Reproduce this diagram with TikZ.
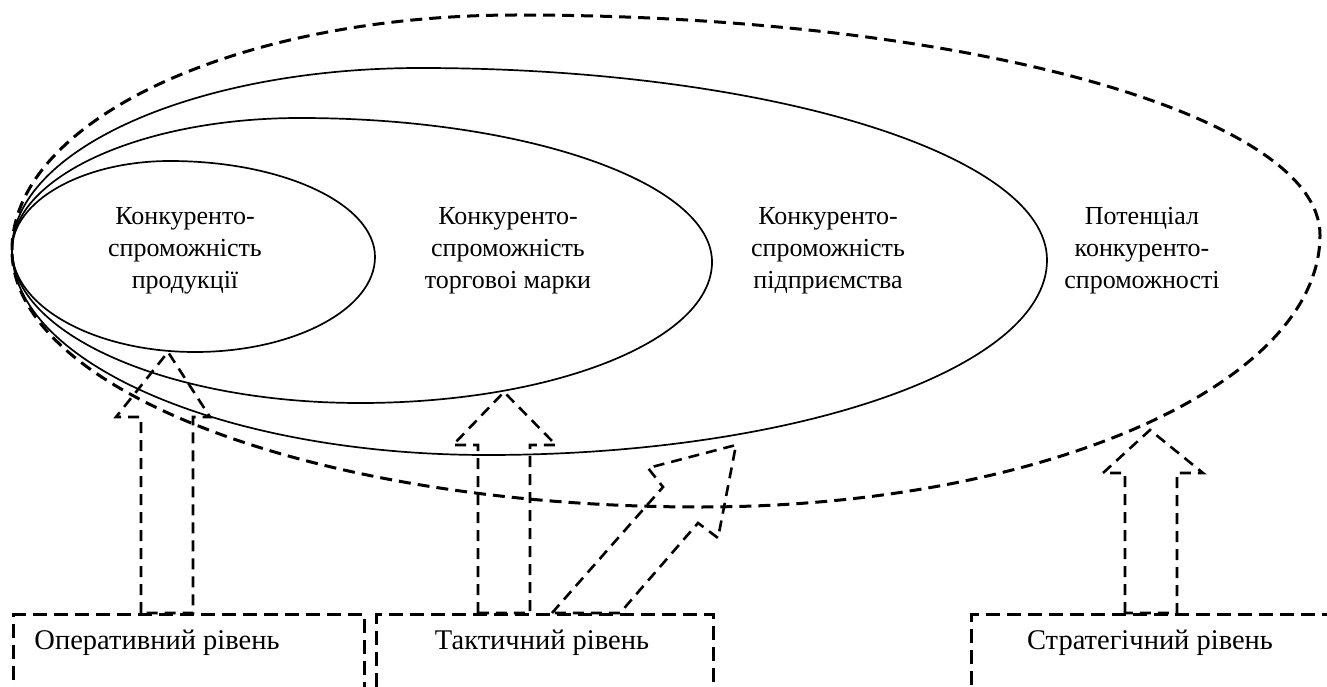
\documentclass[tikz,border=0pt]{standalone}
\usepackage{fontspec}
\setmainfont{Liberation Serif}
\begin{document}
\begin{tikzpicture}[x=1pt,y=-1pt,
  solidegg/.style={line width=1.7pt},
  dashegg/.style={line width=3pt,dash pattern=on 12pt off 7pt},
  lvlbox/.style={draw,line width=3.2pt,dash pattern=on 14pt off 7pt,anchor=north west,minimum height=150pt,inner sep=0pt},
  blockarrow/.style={line width=2.6pt,dash pattern=on 11pt off 7pt,line join=miter},
  lbl/.style={font=\fontsize{26}{32}\selectfont,align=center,inner sep=0pt},
  lvllbl/.style={font=\fontsize{28.5}{34}\selectfont,inner sep=0pt},
]
\useasboundingbox (0,0) rectangle (1327,687);
\clip (0,0) rectangle (1327,687);

% nested shapes
\draw[solidegg] (12,250) .. controls +(0,-49) and +(-87,0) .. (170,161)
  .. controls +(113,0) and +(0,-53) .. (375,257)
  .. controls +(0,52) and +(99,0) .. (195,352)
  .. controls +(-101,0) and +(0,56) .. cycle;
\draw[solidegg] (12,250) .. controls +(0,-73) and +(-159,0) .. (300,118)
  .. controls +(227,0) and +(0,-79) .. (712,262)
  .. controls +(0,78) and +(194,0) .. (360,403)
  .. controls +(-192,0) and +(0,84) .. cycle;
\draw[solidegg] (12,250) .. controls +(0,-100) and +(-225,0) .. (420,68)
  .. controls +(346,0) and +(0,-106) .. (1047,260)
  .. controls +(0,108) and +(309,0) .. (487,455)
  .. controls +(-262,0) and +(0,113) .. cycle;
\draw[dashegg] (12,250) .. controls +(0,-130) and +(-279,0) .. (517,15)
  .. controls +(443,0) and +(0,-121) .. (1320,235)
  .. controls +(0,150) and +(342,0) .. (700,507)
  .. controls +(-380,0) and +(0,142) .. cycle;

% texts in shapes
\node[lbl] (t1) at (185,251) {Конкуренто-\\спроможність\\продукції};
\node[lbl] (t2) at (508,251) {Конкуренто-\\спроможність\\торговоі марки};
\node[lbl] (t3) at (828,251) {Конкуренто-\\спроможність\\підприємства};
\node[lbl] (t4) at (1142,251) {Потенціал\\конкуренто-\\спроможності};

% level boxes
\node[lvlbox,minimum width=351pt] (b1) at (12,613) {};
\node[lvlbox,minimum width=337pt] (b2) at (375,613) {};
\node[lvlbox,minimum width=380pt] (b3) at (970,613) {};
\node[lvllbl] (l1) at (157,643) {Оперативний рівень};
\node[lvllbl] (l2) at (542,643) {Тактичний рівень};
\node[lvllbl] (l3) at (1150,643) {Стратегічний рівень};

% block arrows
\draw[blockarrow] (141,613) -- (141,417) -- (116,417) -- (168,352) -- (210,417) -- (193,417) -- (193,613) -- cycle;
\draw[blockarrow] (478,613) -- (478,445) -- (453,445) -- (504,392) -- (556,445) -- (530,445) -- (530,613) -- cycle;
\draw[blockarrow] (552,613) -- (663,487) -- (648,468) -- (736,445) -- (718,538) -- (698,523) -- (620,613) -- cycle;
\draw[blockarrow] (1125,613) -- (1125,473) -- (1103,473) -- (1150,430) -- (1203,473) -- (1177,473) -- (1177,613) -- cycle;
\end{tikzpicture}
\end{document}
